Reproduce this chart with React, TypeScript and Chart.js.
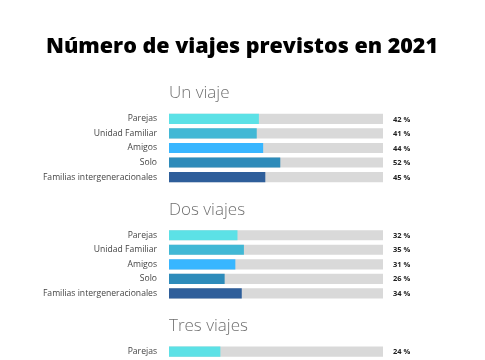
import { useEffect, useRef } from 'react';
import { Chart, registerables } from 'chart.js';

Chart.register(...registerables);

const TITLE = 'Número de viajes previstos en 2021';
const sections = ['Un viaje', 'Dos viajes', 'Tres viajes'];
const groups = ['Parejas', 'Unidad Familiar', 'Amigos', 'Solo', 'Familias intergeneracionales'];
const unViaje = [42, 41, 44, 52, 45];
const dosViajes = [32, 35, 31, 26, 34];
const tresViajes = [24];
const groupColors = ['#5CE1E6', '#41B8D5', '#38B6FF', '#2D8BBA', '#2E5E9A'];
const TRACK_MAX = 100;
const SPACER_ROWS = 3;

export default function App() {
  const ref = useRef<HTMLCanvasElement>(null);

  useEffect(() => {
    document.body.style.margin = '0';
    const seriesList = [unViaje, dosViajes, tresViajes];
    const labels: string[] = [];
    const values: (number | null)[] = [];
    const colors: string[] = [];
    const track: (number | null)[] = [];
    const headerIdx: number[] = [];
    seriesList.forEach((s) => {
      for (let i = 0; i < SPACER_ROWS; i++) {
        labels.push('');
        values.push(null);
        colors.push('rgba(0,0,0,0)');
        track.push(null);
      }
      headerIdx.push(labels.length);
      s.forEach((v, i) => {
        labels.push(groups[i]);
        values.push(v);
        colors.push(groupColors[i]);
        track.push(TRACK_MAX);
      });
    });

    const textPlugin = {
      id: 'texts',
      afterDraw(chart: any) {
        const ctx = chart.ctx;
        const area = chart.chartArea;
        const y = chart.scales.y;
        ctx.save();
        // title
        ctx.fillStyle = '#000';
        ctx.font = '800 21.5px "Open Sans"';
        ctx.textAlign = 'center';
        ctx.textBaseline = 'middle';
        ctx.fillText(TITLE, 242, 47);
        // section headers
        ctx.fillStyle = '#707070';
        ctx.font = '300 17px "Open Sans"';
        ctx.textAlign = 'left';
        headerIdx.forEach((idx, si) => {
          ctx.fillText(sections[si], area.left, y.getPixelForValue(idx) - 25.5);
        });
        // value labels
        ctx.fillStyle = '#222';
        ctx.font = 'bold 7.5px "Open Sans"';
        values.forEach((v, i) => {
          if (v === null) return;
          ctx.fillText(`${v} %`, area.right + 10, y.getPixelForValue(i) + 0.5);
        });
        ctx.restore();
      },
    };

    const chart = new Chart(ref.current!, {
      type: 'bar',
      data: {
        labels,
        datasets: [
          {
            data: values,
            backgroundColor: colors,
            grouped: false,
            order: 0,
            barPercentage: 0.7,
            categoryPercentage: 1,
          } as any,
          {
            data: track,
            backgroundColor: '#D9D9D9',
            grouped: false,
            order: 1,
            barPercentage: 0.7,
            categoryPercentage: 1,
          } as any,
        ],
      },
      options: {
        indexAxis: 'y',
        animation: false,
        responsive: false,
        layout: { padding: { top: 68, right: 102, bottom: 0, left: 0 } },
        plugins: { legend: { display: false }, tooltip: { enabled: false }, title: { display: false } },
        scales: {
          x: { display: false, min: 0, max: TRACK_MAX },
          y: {
            grid: { display: false, drawTicks: false },
            border: { display: false },
            afterFit: (scale: any) => {
              scale.width = 169;
            },
            ticks: {
              padding: 12,
              color: '#444',
              font: { family: '"Open Sans"', size: 8.6 },
              autoSkip: false,
            },
          },
        },
      },
      plugins: [textPlugin],
    });
    return () => chart.destroy();
  }, []);

  return (
    <div style={{ position: 'absolute', left: 0, top: 0, width: 485, height: 360, overflow: 'hidden' }}>
      <canvas ref={ref} width={485} height={376} style={{ width: 485, height: 376 }} />
    </div>
  );
}
